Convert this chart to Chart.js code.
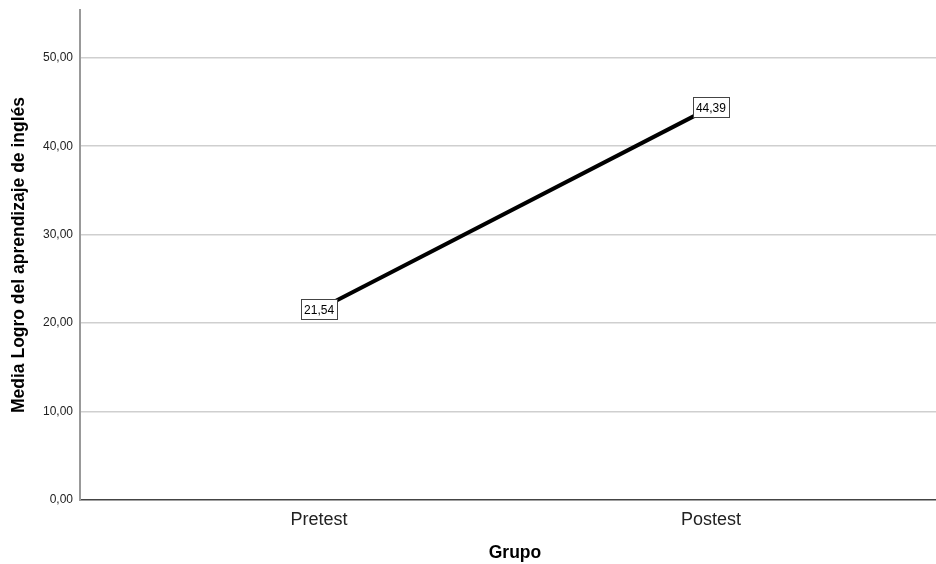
<!DOCTYPE html>
<html lang="es">
<head>
<meta charset="UTF-8">
<title>Media Logro del aprendizaje de inglés</title>
<script src="https://cdn.jsdelivr.net/npm/chart.js"></script>
<style>
  html, body { margin: 0; padding: 0; background: #fff; overflow: hidden; }
  /* el gráfico original queda cortado por la derecha */
  #wrap { width: 950px; height: 564px; }
</style>
</head>
<body>
<div id="wrap"><canvas id="chart"></canvas></div>
<script>
const grupos = ['Pretest', 'Postest'];
const medias = [21.54, 44.39];
const yTicks = [0, 10, 20, 30, 40, 50];

const fuente = '"Liberation Sans", Arial, sans-serif';
const coma = v => v.toFixed(2).replace('.', ',');

// cajas con el valor de cada punto
const etiquetas = {
    id: 'etiquetas',
    afterDatasetsDraw(chart) {
        const ctx = chart.ctx;
        const meta = chart.getDatasetMeta(0);
        ctx.save();
        ctx.font = '12px ' + fuente;
        ctx.textAlign = 'center';
        ctx.textBaseline = 'middle';
        meta.data.forEach((pt, i) => {
            const txt = coma(medias[i]);
            const w = Math.round(ctx.measureText(txt).width) + 6, h = 20;
            const x = Math.round(pt.x - w / 2) + 0.5, y = Math.round(pt.y - h / 2) + 0.5;
            ctx.fillStyle = '#fff';
            ctx.fillRect(x, y, w, h);
            ctx.strokeStyle = '#444';
            ctx.lineWidth = 1;
            ctx.strokeRect(x, y, w, h);
            ctx.fillStyle = '#000';
            ctx.fillText(txt, pt.x, pt.y + 1);
        });
        ctx.restore();
    }
};

new Chart(document.getElementById('chart'), {
    type: 'line',
    data: {
        datasets: [{
            data: medias.map((v, i) => ({ x: i + 1, y: v })),
            borderColor: '#000',
            borderWidth: 4,
            pointRadius: 0,
            fill: false
        }]
    },
    options: {
        responsive: true,
        maintainAspectRatio: false,
        animation: false,
        layout: { padding: { top: 10, left: 0, right: 0, bottom: 0 } },
        plugins: {
            legend: { display: false },
            tooltip: { enabled: false }
        },
        scales: {
            x: {
                type: 'linear',
                min: 0.39,
                max: 2.61,
                afterBuildTicks: s => { s.ticks = grupos.map((g, i) => ({ value: i + 1 })); },
                afterFit: s => { s.height = 64; s.paddingLeft = 0; s.paddingRight = 0; },
                grid: { display: false },
                border: { color: '#444', width: 1.5 },
                ticks: {
                    callback: v => grupos[v - 1],
                    font: { family: fuente, size: 18 },
                    color: '#222',
                    padding: 1,
                    maxRotation: 0
                },
                title: {
                    display: true,
                    text: 'Grupo',
                    font: { family: fuente, size: 17.5, weight: 'bold' },
                    color: '#000',
                    padding: { top: 0, bottom: 0 }
                }
            },
            y: {
                min: 0,
                max: 55.4,
                afterBuildTicks: s => { s.ticks = yTicks.map(v => ({ value: v })); },
                afterFit: s => { s.width = 80; s.paddingTop = 0; s.paddingBottom = 0; },
                grid: {
                    color: c => (c.tick && c.tick.value === 0) ? 'rgba(0,0,0,0)' : '#cfcfcf',
                    lineWidth: 1.5,
                    drawTicks: false
                },
                border: { color: '#999', width: 2 },
                ticks: {
                    callback: v => coma(v),
                    font: { family: fuente, size: 12 },
                    color: '#222',
                    padding: 7
                },
                title: {
                    display: true,
                    text: 'Media Logro del aprendizaje de inglés',
                    font: { family: fuente, size: 17.5, weight: 'bold' },
                    color: '#000',
                    padding: { top: 9, bottom: 0 }
                }
            }
        }
    },
    plugins: [etiquetas]
});
</script>
</body>
</html>
